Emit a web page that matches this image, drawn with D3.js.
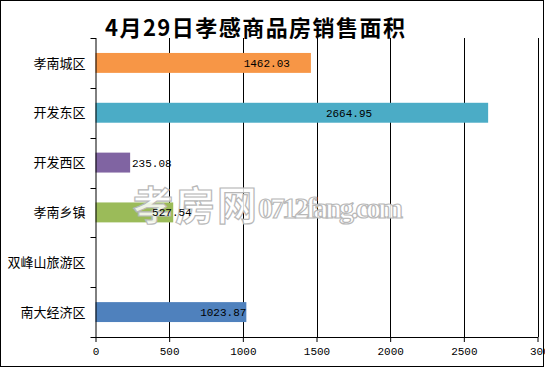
<!DOCTYPE html>
<html><head><meta charset="utf-8">
<script src="https://cdn.jsdelivr.net/npm/d3@7"></script>
<style>body{margin:0;background:#fff}svg{display:block}</style>
</head><body>
<svg id="c" width="545" height="368"></svg>
<script>
const title = "4月29日孝感商品房销售面积";
const categories = ["孝南城区","开发东区","开发西区","孝南乡镇","双峰山旅游区","南大经济区"];
const values = [1462.03, 2664.95, 235.08, 527.54, 0, 1023.87];
const colors = ["#F79646","#4BACC6","#8064A2","#9BBB59","#C0504D","#4F81BD"];
const xTicks = [0,500,1000,1500,2000,2500,3000];
const xTickLabels = ["0","500","1000","1500","2000","2500","300"];
const watermarkCJK = "孝房网";
const watermarkLatin = "0712fang.com";

(function(){
// label offsets (px) from bar end, right anchored - layout, not data
const labelDx = [-21, -116, 41.5, 18.5, 0, 0];

const svg = d3.select("#c");
const L = 95.5, R = 537.5, T = 38, B = 337;
const x = d3.scaleLinear().domain([0,3000]).range([L,R]);
const y = d3.scaleBand().domain(categories).range([T,B]).paddingInner(0.6).paddingOuter(0.3);
const idx = d3.range(categories.length);

svg.append("rect").attr("x",0.5).attr("y",0.5).attr("width",543).attr("height",366)
  .attr("fill","#fff").attr("stroke","#000");

// gridlines
svg.append("g").selectAll("line").data(xTicks.slice(1)).join("line")
  .attr("x1",d=>Math.round(x(d))+0.5).attr("x2",d=>Math.round(x(d))+0.5)
  .attr("y1",T).attr("y2",B).attr("stroke","#000").attr("stroke-width",1);

// bars
svg.append("g").selectAll("rect").data(idx).join("rect")
  .attr("x",x(0)).attr("y",i=>y(categories[i]))
  .attr("width",i=>x(values[i])-x(0)).attr("height",y.bandwidth())
  .attr("fill",i=>colors[i]);

// watermark
const wm = svg.append("g").attr("fill","#fff").attr("fill-opacity",0.85).attr("stroke","#b8b8b8").attr("stroke-width",1.2);
wm.append("text").attr("x",133).attr("y",220).attr("font-family","Noto Sans CJK SC").attr("font-weight","bold")
  .attr("font-size",40).attr("textLength",124).text(watermarkCJK);
wm.append("text").attr("x",258).attr("y",218).attr("font-family","Liberation Serif").attr("font-weight","bold")
  .attr("font-size",30).attr("textLength",145).text(watermarkLatin);

// value labels
svg.append("g").selectAll("text").data(idx.filter(i=>values[i]>0)).join("text")
  .attr("x",i=>x(values[i])+labelDx[i])
  .attr("y",i=>y(categories[i])+y.bandwidth()/2)
  .attr("dy","0.36em").attr("text-anchor","end")
  .attr("font-family","Liberation Mono").attr("font-size",11).attr("fill","#000")
  .text(i=>values[i].toFixed(2));

// x axis
const xa = svg.append("g").attr("transform",`translate(0,${B})`)
  .call(d3.axisBottom(x).tickValues(xTicks).tickFormat((d,i)=>xTickLabels[i]).tickSize(5).tickSizeOuter(0));
xa.select(".domain").attr("stroke","#000");
xa.selectAll(".tick line").attr("stroke","#000");
xa.selectAll("text").attr("font-family","Liberation Mono").attr("font-size",11).attr("fill","#000").attr("dy","0.9em");
xa.selectAll(".tick").filter(d=>d===3000).select("text").attr("text-anchor","start").attr("dx","-8");

// y axis
const ya = svg.append("g").attr("transform",`translate(${L},0)`);
ya.append("line").attr("x1",0.5).attr("x2",0.5).attr("y1",T).attr("y2",B).attr("stroke","#000");
const step = y.step();
ya.selectAll("line.t").data(d3.range(categories.length+1)).join("line").attr("class","t")
  .attr("x1",-5).attr("x2",0.5).attr("y1",i=>Math.round(T+i*step)+0.5).attr("y2",i=>Math.round(T+i*step)+0.5)
  .attr("stroke","#000");
ya.selectAll("text").data(categories).join("text")
  .attr("x",-10).attr("y",d=>y(d)+y.bandwidth()/2).attr("dy","0.36em").attr("text-anchor","end")
  .attr("font-family","Noto Sans CJK SC").attr("font-size",13).attr("fill","#000").text(d=>d);

// title
svg.append("text").attr("x",105).attr("y",36).attr("font-family","Noto Sans CJK SC").attr("font-weight","bold")
  .attr("font-size",22).attr("textLength",300).attr("fill","#000").text(title);
})();
</script>
</body></html>
